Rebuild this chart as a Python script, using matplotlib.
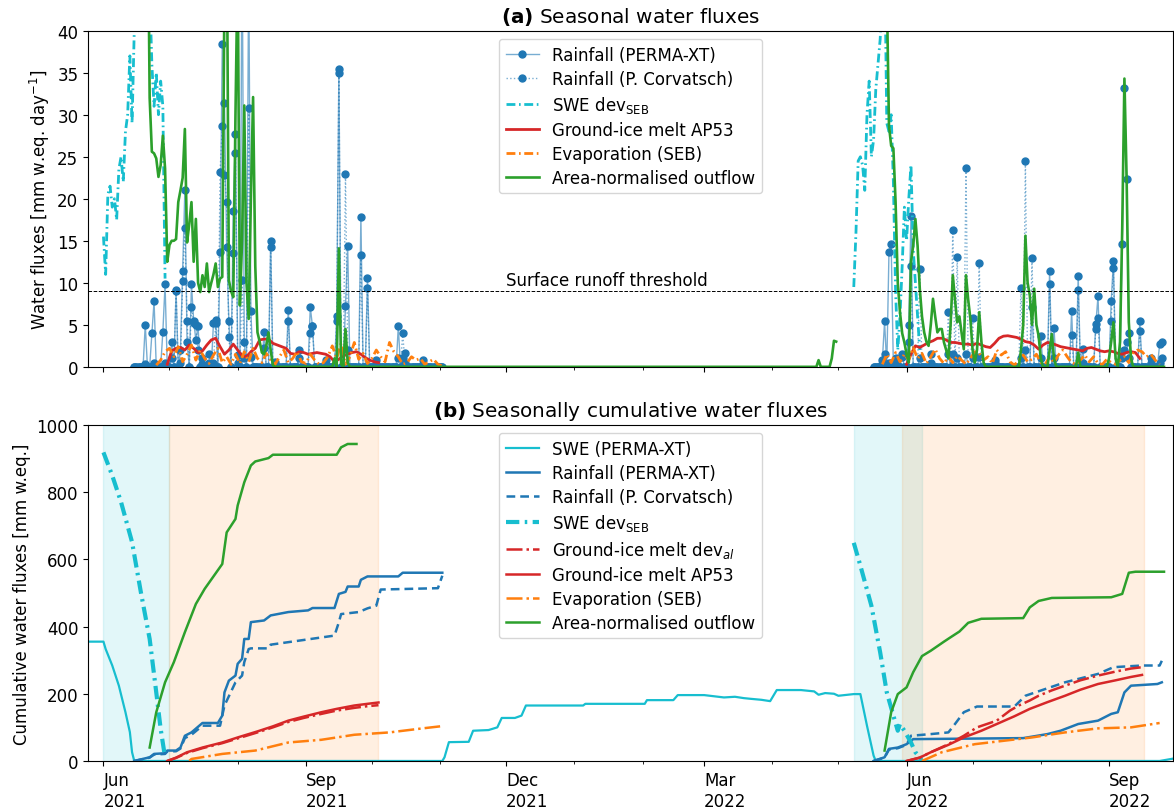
import numpy as np
import pandas as pd
import matplotlib.pyplot as plt
import matplotlib.dates as mdates
from matplotlib.colors import to_rgba

plt.rcParams["font.size"] = 12

T0 = pd.Timestamp("2021-06-01")  # day 0 of the record

BLUE, CYAN, RED, ORANGE, GREEN = "tab:blue", "tab:cyan", "tab:red", "tab:orange", "tab:green"
DASHDOT = (3.2, 1.3, 0.6, 1.3)

# ---------------- (a) daily fluxes [mm w.eq. / day] ----------------
# rain gauge seasons (first day, last day); days not listed are dry
rain_seasons = [(14, 154), (350, 481)]
rain_days = [19, 22, 23, 27, 28, 31, 33, 35, 36, 37, 38, 40, 41, 42, 43, 45, 48, 50, 51, 53,
             54, 55, 56, 57, 59, 60, 61, 63, 64, 66, 67, 73, 76, 78, 84, 89, 94, 95, 101, 106,
             107, 110, 111, 117, 120, 124, 134, 136, 137, 145,
             354, 355, 357, 358, 360, 363, 366, 367, 371, 376, 384, 386, 388, 392, 395, 398, 405,
             417, 419, 422, 426, 430, 432, 440, 443, 445, 451, 452, 458, 459, 463, 464, 465, 466,
             471, 476, 480, 481]
rain_perma = [5.0, 4.0, 7.8, 4.2, 9.8, 2.9, 9.0, 2.0, 11.4, 21.0, 3.0, 9.8, 5.5, 3.2, 4.8, 1.0, 0.5, 5.2, 5.6, 13.7,
              38.4, 31.4, 14.2, 5.4, 18.6, 27.7, 1.4, 52.0, 3.0, 48.0, 6.6, 4.2, 15.0, 0.6, 6.8, 2.0, 7.1, 4.8, 0.8, 6.0,
              35.4, 7.2, 14.4, 17.8, 10.6, 0.8, 4.8, 1.0, 1.6, 0.8,
              0.8, 5.4, 13.7, 14.6, 1.0, 1.5, 5.0, 18.0, 1.0, 0.5, 1.5, 1.5, 1.0, 1.5, 1.0, 1.2, 0.5,
              1.0, 2.0, 7.1, 3.7, 11.4, 4.6, 6.6, 10.8, 2.1, 5.1, 8.4, 7.8, 12.6, 14.6, 33.2, 22.4, 4.0,
              5.4, 1.0, 2.7, 3.0]
rain_corv = [0.3, 0.0, 0.5, 0.0, 0.5, 1.0, 9.2, 0.4, 10.2, 16.5, 5.4, 7.1, 5.2, 5.0, 2.0, 0.3, 1.5, 0.5, 5.2, 23.2,
             28.7, 22.8, 19.6, 3.5, 13.5, 25.4, 0.5, 10.3, 1.0, 30.8, 1.2, 2.3, 14.2, 0.0, 5.4, 1.0, 4.0, 4.9, 0.2, 5.4,
             35.0, 22.9, 2.0, 13.3, 9.4, 0.3, 1.0, 4.0, 0.5, 0.3,
             0.3, 1.5, 0.5, 0.5, 0.5, 1.2, 3.0, 12.0, 11.7, 1.5, 6.5, 16.3, 13.1, 23.7, 5.8, 12.4, 0.8,
             9.4, 24.5, 12.9, 1.0, 9.8, 1.0, 3.8, 9.2, 0.5, 4.5, 5.8, 5.4, 11.8, 1.0, 2.0, 3.0, 1.0,
             4.3, 0.5, 0.5, 1.0]

# SWE depletion from the surface energy balance
swe_dev_a_21 = [15.5, 11.0, 20.5, 21.5, 19.0, 20.0, 17.5, 23.5, 25.0, 22.0, 28.0, 30.0, 37.0, 29.0, 40.0,
                46.0, 52.0, 55.0, 58.0, 55.0, 50.0, 45.0, 36.0, 31.0, 35.0, 30.0, 34.0, 31.0, 10.5]
swe_dev_a_22 = [9.5, 16.0, 24.5, 25.0, 24.0, 21.0, 30.0, 34.0, 25.0, 27.0, 33.0, 36.0, 39.0, 45.0, 50.0,
                29.0, 28.0, 30.0, 22.0, 9.0, 2.0, 6.0, 12.0, 19.0, 15.0, 20.0, 24.0, 14.0, 10.0, 6.0, 2.0]
swe_dev_a_start = [0, 341]

# ground-ice melt AP53, every second day
melt_a_21 = [0.3, 1.9, 2.2, 2.3, 2.0, 2.6, 2.2, 1.7, 1.9, 2.6, 3.2, 3.4, 2.4, 1.5, 2.0, 2.7, 2.0, 1.3, 1.2, 1.8,
             2.2, 3.2, 3.3, 3.3, 2.8, 2.6, 2.4, 2.2, 1.6, 1.5, 1.8, 1.7, 1.5, 1.6, 1.7, 1.6, 1.5, 1.2, 0.6, 0.9,
             1.3, 1.5, 1.7, 1.8, 1.5, 1.1, 0.8, 0.6, 0.5]
melt_a_22 = [0.3, 1.5, 2.5, 2.3, 2.6, 2.9, 3.1, 3.4, 3.4, 3.2, 2.9, 2.9, 2.8, 2.7, 2.7, 2.6, 2.8, 2.6, 2.4, 2.3,
             2.8, 3.4, 3.65, 3.7, 3.6, 3.5, 3.3, 3.0, 2.9, 2.6, 2.1, 2.6, 2.9, 2.8, 2.6, 2.4, 2.3, 2.2, 2.1, 2.0,
             1.9, 2.2, 2.3, 2.1, 1.9, 1.8, 1.9, 1.8, 1.6, 1.5, 1.7, 1.8, 1.7, 1.0]
melt_a_start = [29, 365]

# evaporation (SEB), every second day
evap_a_21 = [0.2, 0.8, 1.8, 2.2, 1.2, 2.4, 0.6, 1.5, 2.6, 0.8, 2.0, 1.0, 0.4, 1.4, 2.2, 0.5, 1.2, 0.3, 1.5, 0.4,
             1.8, 0.6, 2.2, 1.0, 0.5, 1.6, 0.8, 0.3, 1.2, 2.0, 0.5, 1.0, 1.8, 0.6, 0.4, 1.5, 0.8, 0.3, 0.5, 1.2,
             2.5, 1.0, 2.8, 0.3, 1.2, 2.9, 0.9, 1.6, 0.4, 1.0, 2.0, 1.2, 0.6, 2.9, 1.8, 1.2, 0.3, 0.5, 1.2, 0.8,
             1.0, 0.3, 0.6, 0.9, 0.3, 0.1]
evap_a_22 = [0.3, 1.5, 0.5, 1.7, 0.6, 1.5, 0.8, 2.3, 1.0, 1.6, 0.4, 1.2, 2.1, 1.0, 0.4, 1.2, 0.5, 1.3, 0.8, 0.3,
             1.0, 1.8, 1.6, 0.8, 1.2, 0.4, 2.0, 1.4, 1.8, 0.6, 0.2, 0.8, 1.4, 0.6, 0.9, 1.5, 0.5, 0.3, 1.2, 0.5,
             1.4, 2.0, 1.2, 0.5, 0.3, 0.8, 1.4, 0.6, 1.2, 0.4, 0.3, 0.9, 0.5, 0.3, 0.8, 1.2, 0.5, 1.6, 2.0, 1.8,
             1.2, 1.5, 0.8, 0.3]
evap_a_start = [24, 354]

# area-normalised outflow, gauge seasons; days not listed had no flow
outflow_seasons = [(20, 333), (355, 482)]
outflow_days = (list(range(20, 78)) + [105, 107, 108, 110, 111, 325, 331, 332, 333]
                + list(range(355, 401))
                + [417, 418, 419, 420, 421, 422, 423, 424, 425, 426, 430, 431, 432, 443,
                   457, 458, 459, 460, 462, 463, 464, 465, 466, 467])
outflow_vals = [60, 32, 25.6, 25.4, 24.8, 22.6, 24, 27.5, 23.6, 12.5, 14.5, 15, 15, 15.2, 19.6, 21, 22.5, 28.3,
                14.8, 17, 19.6, 12.5, 17.6, 10, 8.9, 10.9, 9.5, 12.3, 8.9, 10, 11, 12.3, 9.5, 10.5, 10.7, 45, 55,
                10.3, 9, 8.3, 30, 48, 7.3, 15, 31.1, 10, 5.7, 20, 32.1, 12, 4.1, 3, 1.7, 1.5, 2.5, 4.1, 2, 0.2,
                1.0, 14.1, 0.3, 4.5, 0.5, 0.8, 1.0, 3.1, 3.0,
                60, 45, 28.7, 26.3, 26, 19.6, 10, 6.5, 4, 2.9, 1.5, 0.5, 12.5, 14.4, 17.6, 14.4, 9.3, 6, 4.1, 3,
                2.5, 5, 8.1, 6, 4.1, 4.5, 4.5, 2.9, 2, 1, 5, 10.9, 8, 5.3, 6, 4, 2.1, 10.9, 8, 5.7, 2, 0.5, 2,
                6.5, 3, 0.5,
                2, 5, 15.6, 10, 8.5, 5, 9.3, 5, 3.7, 1, 2, 3.9, 1, 1.7,
                1, 3, 5.3, 1, 3, 16.4, 34.3, 22.4, 5.3, 1]

RUNOFF_THRESHOLD = 9.0

# ---------------- (b) seasonal cumulative fluxes [mm w.eq.] ----------------
swe_days = [-7, 0, 1, 4, 7, 10, 12, 13, 14, 154, 155, 157, 166, 168, 175, 179, 181, 187, 190, 192, 218, 219,
            246, 247, 259, 261, 273, 282, 287, 291, 294, 299, 303, 306, 317, 323, 325, 328, 332, 334, 341,
            344, 347, 350, 351, 480, 487]
swe_vals = [355, 355, 333, 284, 224, 145, 86, 26, 0, 0, 11, 56, 57, 90, 92, 100, 128, 128, 135, 165, 165, 170,
            170, 181, 181, 196, 196, 189, 191, 187, 185, 182, 178, 211, 211, 207, 197, 202, 200, 194, 199,
            199, 105, 16, 0, 0, 8]

rain_p_days_21 = [14, 21, 23, 28, 29, 33, 35, 37, 40, 45, 52, 54, 55, 57, 60, 61, 63, 64, 66, 67, 73, 76, 84,
                  93, 95, 105, 107, 110, 111, 116, 117, 120, 134, 136, 154]
rain_p_cum_21 = [0, 11, 21, 23, 31, 31, 40, 75, 85, 113, 113, 135, 204, 239, 254, 289, 304, 363, 363, 413, 418,
                 433, 443, 448, 455, 455, 497, 503, 519, 519, 539, 549, 549, 560, 560]
rain_p_days_22 = [350, 355, 357, 361, 365, 368, 418, 429, 435, 443, 452, 458, 461, 464, 467, 479, 481]
rain_p_cum_22 = [0, 11, 36, 40, 50, 65, 68, 80, 90, 110, 120, 140, 145, 204, 224, 229, 234]

rain_c_days_21 = [14, 21, 23, 28, 29, 33, 35, 37, 40, 45, 53, 55, 60, 63, 64, 66, 67, 75, 76, 105, 107, 108,
                  116, 120, 124, 126, 152, 154]
rain_c_cum_21 = [0, 10, 19, 21, 28, 29, 37, 68, 78, 105, 105, 165, 234, 254, 294, 333, 335, 335, 346, 373, 413,
                 437, 443, 454, 462, 510, 514, 551]
rain_c_days_22 = [350, 355, 357, 361, 365, 367, 376, 384, 387, 391, 397, 414, 419, 428, 437, 446, 452, 459,
                  472, 480, 481]
rain_c_cum_22 = [0, 10, 34, 38, 48, 75, 80, 85, 110, 145, 162, 162, 194, 214, 234, 249, 259, 279, 284, 284, 298]

swe_dev_days_21 = [0, 4, 8, 13, 17, 21, 24, 26, 28]
swe_dev_cum_21 = [918, 849, 770, 651, 502, 363, 204, 95, 11]
swe_dev_days_22 = [341, 344, 349, 353, 356, 359, 361, 362, 364, 367, 369, 371, 372]
swe_dev_cum_22 = [649, 581, 462, 323, 204, 135, 90, 110, 90, 55, 26, 11, 0]

melt_days_21 = [29, 33, 38, 45, 54, 61, 70, 77, 84, 91, 99, 106, 114, 120, 125]
melt_ap53_21 = [0, 10, 26, 40, 55, 70, 88, 103, 120, 132, 145, 155, 165, 170, 174]
melt_dev_21 = [0, 9, 24, 38, 53, 67, 85, 100, 116, 128, 140, 150, 158, 163, 166]
melt_ap53_days_22 = [365, 371, 376, 384, 391, 399, 406, 414, 421, 429, 437, 444, 452, 460, 467, 472]
melt_ap53_22 = [0, 10, 26, 48, 70, 90, 110, 133, 155, 175, 194, 212, 229, 240, 250, 256]
melt_dev_days_22 = [365, 371, 376, 384, 391, 397, 406, 412, 416, 421, 425, 431, 437, 444, 452, 460, 467, 472]
melt_dev_22 = [0, 10, 26, 50, 75, 100, 120, 150, 165, 180, 194, 210, 224, 240, 254, 266, 275, 279]

evap_days_21 = [39, 40, 54, 69, 84, 99, 114, 130, 145, 153]
evap_cum_21 = [0, 6, 21, 31, 55, 63, 78, 85, 97, 103]
evap_days_22 = [372, 381, 396, 422, 437, 452, 467, 480]
evap_cum_22 = [0, 26, 50, 70, 85, 97, 100, 113]

outflow_days_21 = [21, 24, 28, 32, 37, 42, 46, 54, 56, 60, 61, 64, 67, 69, 75, 77, 106, 108, 111, 115]
outflow_cum_21 = [40, 145, 234, 294, 383, 467, 512, 586, 680, 720, 760, 829, 879, 891, 901, 911, 911, 933, 943,
                  943]
outflow_days_22 = [355, 358, 361, 365, 368, 372, 376, 382, 385, 389, 393, 399, 418, 421, 425, 431, 458, 463,
                   466, 469, 482]
outflow_cum_22 = [31, 145, 199, 219, 264, 312, 328, 355, 368, 385, 411, 423, 425, 457, 476, 485, 487, 497, 560,
                  563, 563]

# snowmelt and snow-free periods
snowmelt_periods = [(0, 30), (341, 372)]
snowfree_periods = [(30, 125), (363, 473)]


def on(days):
    return T0 + pd.to_timedelta(np.asarray(days, dtype=float), unit="D")


def seasonal(seasons, days, values):
    """Daily series, zero on unlisted days inside each season, NaN between seasons."""
    days = np.asarray(days)
    values = np.asarray(values, dtype=float)
    parts = []
    for first, last in seasons:
        s = pd.Series(0.0, index=on(np.arange(first, last + 1)))
        m = (days >= first) & (days <= last)
        s.loc[on(days[m])] = values[m]
        parts.append(s)
    s = pd.concat(parts)
    return s.reindex(pd.date_range(s.index[0], s.index[-1], freq="D"))


fig = plt.figure(figsize=(11.74, 8.12), dpi=100)
ax1 = fig.add_axes([0.075, 0.547, 0.924, 0.414])
ax2 = fig.add_axes([0.075, 0.0616, 0.924, 0.414], sharex=ax1)

# ---- (a) ----
rp = seasonal(rain_seasons, rain_days, rain_perma)
rc = seasonal(rain_seasons, rain_days, rain_corv)
ax1.plot(rp.index, rp.values, color=to_rgba(BLUE, 0.6), lw=1, marker="o", ms=5,
         mfc=BLUE, mec=BLUE, label="Rainfall (PERMA-XT)")
ax1.plot(rc.index, rc.values, color=to_rgba(BLUE, 0.6), lw=1, ls=":", marker="o", ms=5,
         mfc=BLUE, mec=BLUE, label="Rainfall (P. Corvatsch)")

for i, (start, vals) in enumerate(zip(swe_dev_a_start, [swe_dev_a_21, swe_dev_a_22])):
    ax1.plot(on(np.arange(len(vals)) + start), vals, color=CYAN, lw=2, dashes=DASHDOT,
             label=r"SWE dev$_{\rm SEB}$" if i == 0 else None)
for i, (start, vals) in enumerate(zip(melt_a_start, [melt_a_21, melt_a_22])):
    ax1.plot(on(np.arange(len(vals)) * 2 + start), vals, color=RED, lw=2,
             label="Ground-ice melt AP53" if i == 0 else None)
for i, (start, vals) in enumerate(zip(evap_a_start, [evap_a_21, evap_a_22])):
    ax1.plot(on(np.arange(len(vals)) * 2 + start), vals, color=ORANGE, lw=2, dashes=DASHDOT,
             label="Evaporation (SEB)" if i == 0 else None)

q = seasonal(outflow_seasons, outflow_days, outflow_vals)
ax1.plot(q.index, q.values, color=GREEN, lw=1.9, label="Area-normalised outflow")

ax1.axhline(RUNOFF_THRESHOLD, color="k", ls="--", lw=0.7)
ax1.text(pd.Timestamp("2021-12-01"), RUNOFF_THRESHOLD + 0.3, "Surface runoff threshold",
         ha="left", va="bottom")

ax1.set_ylim(0, 40)
ax1.set_ylabel(r"Water fluxes [mm w.eq. day$^{-1}$]")
ax1.set_title(r"$\bf{(a)}$ Seasonal water fluxes")
ax1.legend(loc="upper center", labelspacing=0.36)
ax1.tick_params(labelbottom=False)

# ---- (b) ----
for a, b in snowmelt_periods:
    ax2.axvspan(on(a), on(b), color=CYAN, alpha=0.12)
for a, b in snowfree_periods:
    ax2.axvspan(on(a), on(b), color=ORANGE, alpha=0.12)


def two_seasons(ax, d1, v1, d2, v2, label, **kw):
    ax.plot(on(d1), v1, label=label, **kw)
    ax.plot(on(d2), v2, **kw)


ax2.plot(on(swe_days), swe_vals, color=CYAN, lw=1.6, label="SWE (PERMA-XT)")
two_seasons(ax2, rain_p_days_21, rain_p_cum_21, rain_p_days_22, rain_p_cum_22,
            "Rainfall (PERMA-XT)", color=BLUE, lw=1.8)
two_seasons(ax2, rain_c_days_21, rain_c_cum_21, rain_c_days_22, rain_c_cum_22,
            "Rainfall (P. Corvatsch)", color=BLUE, lw=1.8, dashes=(3.5, 2))
two_seasons(ax2, swe_dev_days_21, swe_dev_cum_21, swe_dev_days_22, swe_dev_cum_22,
            r"SWE dev$_{\rm SEB}$", color=CYAN, lw=3, dashes=DASHDOT)
two_seasons(ax2, melt_days_21, melt_dev_21, melt_dev_days_22, melt_dev_22,
            r"Ground-ice melt dev$_{al}$", color=RED, lw=1.8, ls="-.")
two_seasons(ax2, melt_days_21, melt_ap53_21, melt_ap53_days_22, melt_ap53_22,
            "Ground-ice melt AP53", color=RED, lw=1.8)
two_seasons(ax2, evap_days_21, evap_cum_21, evap_days_22, evap_cum_22,
            "Evaporation (SEB)", color=ORANGE, lw=1.8, ls="-.")
two_seasons(ax2, outflow_days_21, outflow_cum_21, outflow_days_22, outflow_cum_22,
            "Area-normalised outflow", color=GREEN, lw=1.8)

ax2.set_ylim(0, 1000)
ax2.set_ylabel("Cumulative water fluxes [mm w.eq.]")
ax2.set_title(r"$\bf{(b)}$ Seasonally cumulative water fluxes")
ax2.legend(loc="upper center", labelspacing=0.36)

ax2.set_xlim(pd.Timestamp("2021-05-25"), pd.Timestamp("2022-09-30"))
ax2.xaxis.set_major_locator(mdates.MonthLocator(bymonth=[3, 6, 9, 12]))
ax2.xaxis.set_minor_locator(mdates.MonthLocator())
ax2.xaxis.set_major_formatter(mdates.DateFormatter("%b\n%Y"))
for lbl in ax2.get_xticklabels():
    lbl.set_horizontalalignment("left")

fig.savefig("out.png", dpi=100)
